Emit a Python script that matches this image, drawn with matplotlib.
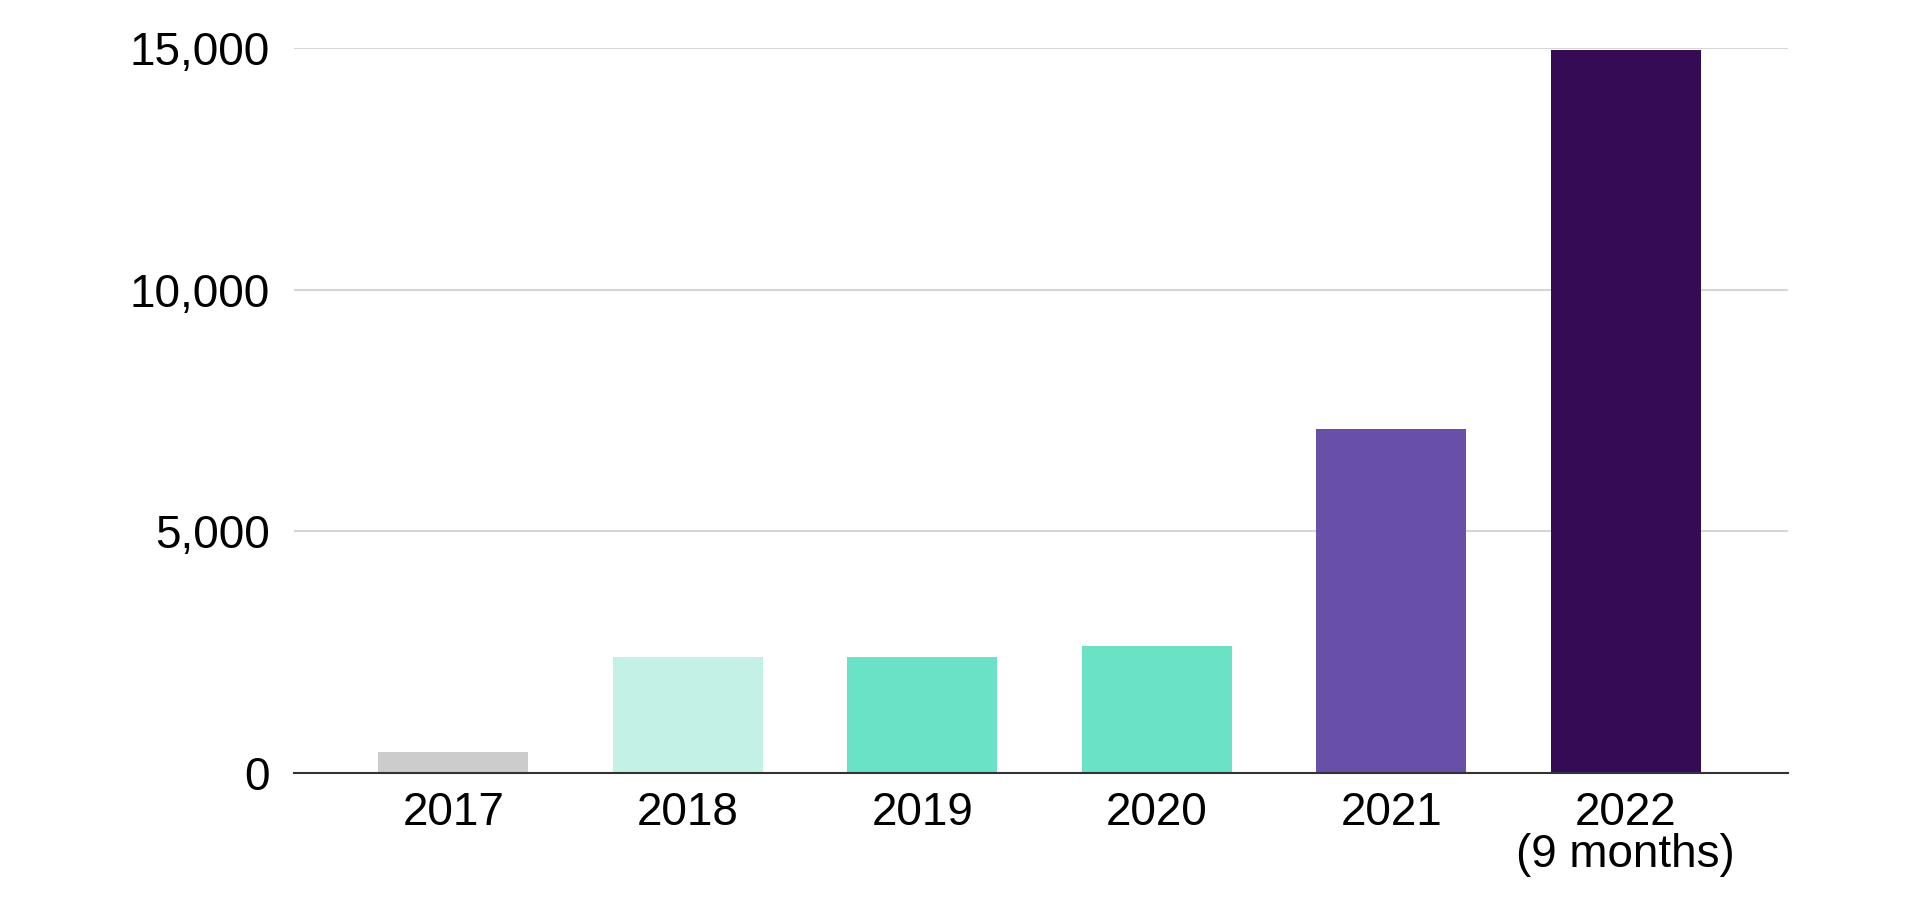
import matplotlib.pyplot as plt
from matplotlib.ticker import FuncFormatter

# dados
years = ['2017', '2018', '2019', '2020', '2021', '2022\n(9 months)']
values = [430, 2400, 2400, 2620, 7120, 14960]
colors = ['#cccccc', '#c3f1e5', '#69e2c6', '#69e2c6', '#6850a8', '#340b54']
y_ticks = [0, 5000, 10000, 15000]

plt.rcParams['font.family'] = ['Liberation Sans', 'DejaVu Sans']

fig = plt.figure(figsize=(19.2, 9.1), dpi=100)
ax = fig.add_axes([0.153, 0.1505, 0.778, 0.7965])

x = list(range(len(years)))
ax.bar(x, values, width=0.64, color=colors, zorder=3)

'''Eixos e grade'''
ax.set_xlim(-0.68, 5.69)
ax.set_ylim(0, 15000)
ax.set_yticks(y_ticks)
ax.yaxis.set_major_formatter(FuncFormatter(lambda v, p: f'{int(v):,}'))
ax.set_xticks(x)
ax.set_xticklabels(years, linespacing=0.95)
ax.grid(axis='y', color='#d6d6d6', linewidth=1.5, zorder=0)
ax.tick_params(axis='both', length=0, labelsize=33, colors='black')
ax.tick_params(axis='y', pad=17)
ax.tick_params(axis='x', pad=13)

for s in ['top', 'right', 'left']:
    ax.spines[s].set_visible(False)
ax.spines['bottom'].set_color('#333333')
ax.spines['bottom'].set_linewidth(1.5)
ax.spines['bottom'].set_zorder(4)

fig.savefig('out.png', dpi=100, facecolor='white')
